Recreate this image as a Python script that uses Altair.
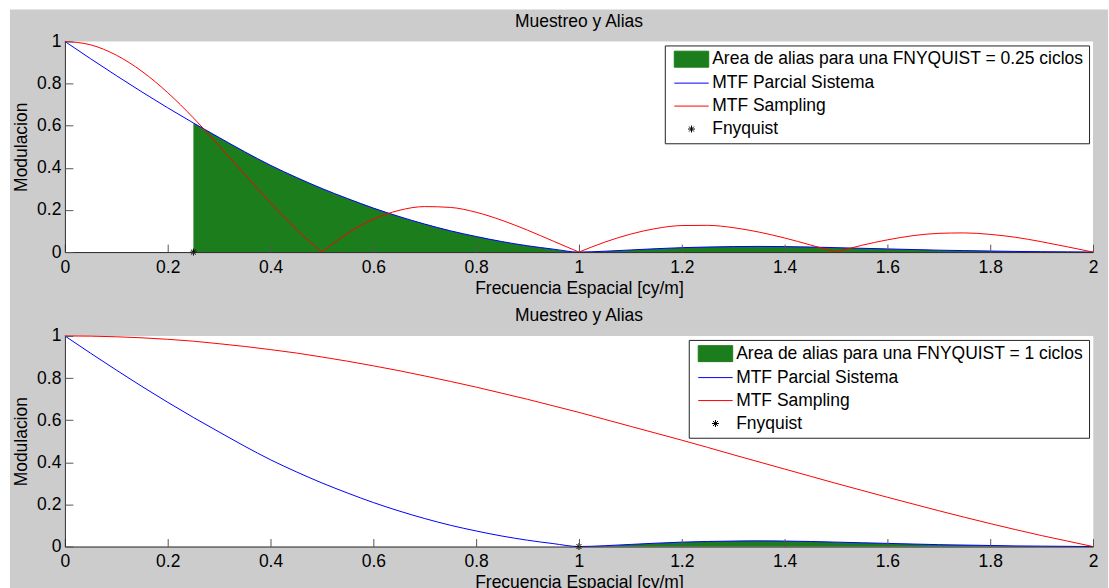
import altair as alt
import pandas as pd

FONT = "Liberation Sans"
FS = 17.5
FIG_GREY = "#cccccc"
ALIAS_GREEN = "#1b7d1b"
AXIS_DARK = "#262626"
TICK_GREY = "#555555"

PLOT_W = 1030
PLOT_H = 211

# spatial frequency grid [cy/m]
freq = [0.00, 0.05, 0.10, 0.15, 0.20, 0.25, 0.30, 0.35, 0.40, 0.45,
        0.50, 0.55, 0.60, 0.65, 0.70, 0.75, 0.80, 0.85, 0.90, 0.95,
        1.00, 1.05, 1.10, 1.15, 1.20, 1.25, 1.30, 1.35, 1.40, 1.45,
        1.50, 1.55, 1.60, 1.65, 1.70, 1.75, 1.80, 1.85, 1.90, 1.95, 2.00]

# partial system MTF (same in both panels)
mtf_sistema = [1.000, 0.918, 0.838, 0.760, 0.685, 0.613, 0.544, 0.476, 0.412, 0.355,
               0.302, 0.254, 0.209, 0.169, 0.133, 0.101, 0.074, 0.050, 0.030, 0.014,
               0.000, 0.004, 0.010, 0.016, 0.021, 0.024, 0.026, 0.027, 0.026, 0.024,
               0.021, 0.018, 0.015, 0.012, 0.009, 0.007, 0.005, 0.003, 0.002, 0.001, 0.000]

# sampling MTF for FNYQUIST = 0.25
mtf_sampling_025 = [1.000, 0.984, 0.935, 0.858, 0.757, 0.637, 0.505, 0.368, 0.234, 0.109,
                    0.000, 0.089, 0.156, 0.198, 0.216, 0.212, 0.189, 0.151, 0.104, 0.052,
                    0.000, 0.047, 0.085, 0.112, 0.126, 0.127, 0.116, 0.095, 0.067, 0.034,
                    0.000, 0.032, 0.058, 0.078, 0.089, 0.091, 0.084, 0.070, 0.049, 0.025, 0.000]

# sampling MTF for FNYQUIST = 1
mtf_sampling_1 = [1.000, 0.999, 0.996, 0.991, 0.984, 0.975, 0.963, 0.950, 0.935, 0.919,
                  0.900, 0.880, 0.858, 0.835, 0.810, 0.784, 0.757, 0.728, 0.699, 0.668,
                  0.637, 0.604, 0.571, 0.538, 0.505, 0.471, 0.436, 0.402, 0.368, 0.334,
                  0.300, 0.267, 0.234, 0.202, 0.170, 0.139, 0.109, 0.080, 0.052, 0.026, 0.000]

x_ticks = [0, 0.2, 0.4, 0.6, 0.8, 1.0, 1.2, 1.4, 1.6, 1.8, 2.0]
y_ticks = [0, 0.2, 0.4, 0.6, 0.8, 1.0]

SERIES = ["MTF Parcial Sistema", "MTF Sampling", "Fnyquist"]

# legend swatches: filled block, line, asterisk
RECT_PATH = "M-3.45,-1.6H3.45V1.6H-3.45Z"
LINE_PATH = "M-3.45,0H3.45"
STAR_PATH = "M-0.7,0H0.7M0,-0.7V0.7M-0.5,-0.5L0.5,0.5M-0.5,0.5L0.5,-0.5"

xs = alt.Scale(domain=[0, 2], nice=False, zero=False)
ys = alt.Scale(domain=[0, 1], nice=False, zero=False)

x_axis = alt.Axis(orient="bottom", values=x_ticks, format="~g", ticks=False, tickSize=0,
                  grid=False, domainColor=AXIS_DARK, labelFont=FONT, labelFontSize=FS,
                  labelColor="black", labelPadding=6, labelFlush=False, labelOverlap=False,
                  title="Frecuencia Espacial [cy/m]", titleFont=FONT, titleFontSize=FS,
                  titleFontWeight="normal", titleColor="black", titlePadding=4, zindex=1)
x_tick_axis = alt.Axis(orient="top", offset=-PLOT_H, values=x_ticks, labels=False,
                       domain=False, ticks=True, tickSize=8, tickColor=TICK_GREY,
                       grid=False, title=None, zindex=1)
y_axis = alt.Axis(orient="left", values=y_ticks, format="~g", ticks=False, tickSize=0,
                  grid=False, domainColor=AXIS_DARK, labelFont=FONT, labelFontSize=FS,
                  labelColor="black", labelPadding=4, labelFlush=False, labelOverlap=False,
                  title="Modulacion", titleFont=FONT, titleFontSize=FS,
                  titleFontWeight="normal", titleColor="black", titlePadding=6, zindex=1)
y_tick_axis = alt.Axis(orient="right", offset=-PLOT_W, values=y_ticks, labels=False,
                       domain=False, ticks=True, tickSize=8, tickColor=TICK_GREY,
                       grid=False, title=None, zindex=1)


def split_lobes(values):
    """Split a |sinc|-like curve into lobes at its interior zeros (zeros shared)."""
    rows, lobe = [], 0
    for i, (f, v) in enumerate(zip(freq, values)):
        rows.append({"f": f, "v": v, "lobe": lobe})
        if v == 0 and 0 < i < len(values) - 1:
            lobe += 1
            rows.append({"f": f, "v": v, "lobe": lobe})
    return pd.DataFrame(rows)


def panel(fn, sampling, area_label, with_backdrop, title_offset):
    curves = pd.DataFrame({"f": freq, "sistema": mtf_sistema})
    alias = curves[curves["f"] >= fn]
    lobes = split_lobes(sampling)
    marker = pd.DataFrame({"f": [fn], "v": [0.0], "serie": ["Fnyquist"]})
    one = pd.DataFrame({"k": [0]})

    domain = [area_label] + SERIES
    legend = alt.Legend(title=None, orient="top-right", offset=4, fillColor="white",
                        strokeColor="#222222", padding=5, rowPadding=4, symbolSize=100,
                        symbolOffset=13, symbolStrokeWidth=1, labelOffset=12,
                        labelFont=FONT, labelFontSize=FS, labelColor="black",
                        labelLimit=600, cornerRadius=0)
    colors = [ALIAS_GREEN, "#0000ff", "#ff0000", "black"]
    shapes = [RECT_PATH, LINE_PATH, LINE_PATH, STAR_PATH]

    layers = []
    if with_backdrop:
        # grey figure backdrop behind both panels
        layers.append(alt.Chart(one).mark_rect(color=FIG_GREY).encode(
            x=alt.value(-55), x2=alt.value(1045), y=alt.value(-32), y2=alt.value(548)))
    layers.append(alt.Chart(one).mark_rect(color="white").encode(
        x=alt.value(0), x2=alt.value("width"), y=alt.value(0), y2=alt.value("height")))

    area = alt.Chart(alias).mark_area(color=ALIAS_GREEN, opacity=1,
                                      interpolate="monotone").encode(
        x=alt.X("f:Q", scale=xs, axis=x_axis),
        y=alt.Y("sistema:Q", scale=ys, axis=y_axis))
    blue = alt.Chart(curves).mark_line(color="#0000ff", strokeWidth=1,
                                       interpolate="monotone").encode(
        x=alt.X("f:Q", scale=xs, axis=x_tick_axis),
        y=alt.Y("sistema:Q", scale=ys, axis=y_tick_axis))
    red = alt.Chart(lobes).mark_line(color="#ff0000", strokeWidth=1,
                                     interpolate="monotone").encode(
        x=alt.X("f:Q", scale=xs, axis=None),
        y=alt.Y("v:Q", scale=ys, axis=None),
        detail="lobe:N")
    star = alt.Chart(marker).mark_point(filled=True, opacity=1, size=100, strokeWidth=1).encode(
        x=alt.X("f:Q", scale=xs, axis=None),
        y=alt.Y("v:Q", scale=ys, axis=None),
        fill=alt.Fill("serie:N", scale=alt.Scale(domain=domain, range=colors), legend=legend),
        stroke=alt.Stroke("serie:N", scale=alt.Scale(domain=domain, range=colors), legend=legend),
        shape=alt.Shape("serie:N", scale=alt.Scale(domain=domain, range=shapes), legend=legend))
    layers += [area, blue, red, star]

    return alt.layer(*layers).resolve_axis(x="independent", y="independent").properties(
        width=PLOT_W, height=PLOT_H,
        title=alt.TitleParams("Muestreo y Alias", font=FONT, fontSize=FS, color="black",
                              fontWeight="normal", offset=title_offset,
                              frame="group", anchor="middle"))


top = panel(0.25, mtf_sampling_025, "Area de alias para una FNYQUIST = 0.25 ciclos", True, -21.5)
bottom = panel(1.0, mtf_sampling_1, "Area de alias para una FNYQUIST = 1 ciclos", False, 2)

chart = alt.vconcat(top, bottom, spacing=84, bounds="flush").resolve_scale(
    fill="independent", stroke="independent", shape="independent"
).properties(
    padding={"left": 9, "top": 8, "right": 0, "bottom": 0},
    background="white",
).configure_view(stroke="transparent").configure(font=FONT)

chart.save("out.html", embed_options={"renderer": "svg", "actions": False})
